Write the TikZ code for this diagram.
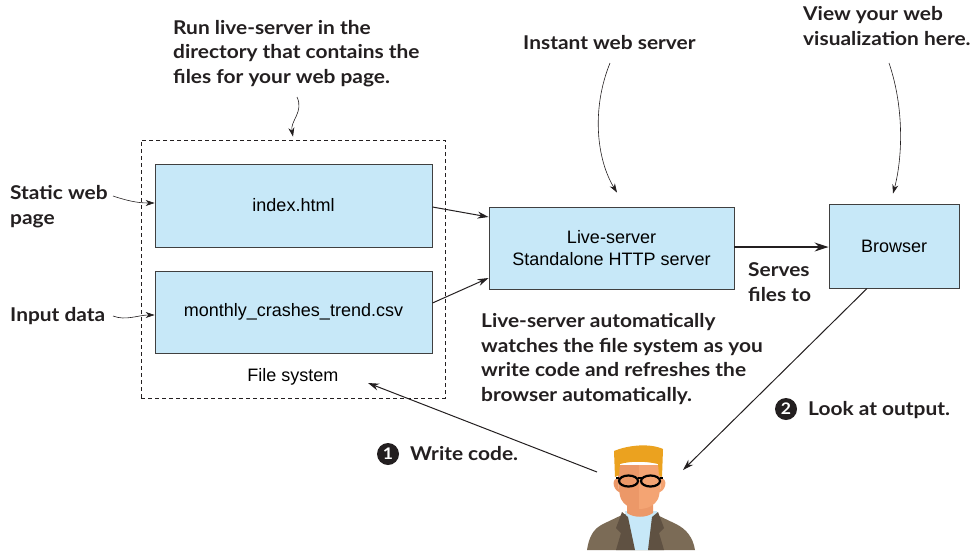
\documentclass[tikz,border=0pt]{standalone}
\usepackage{fontspec}
\setmainfont{Lato}[FakeStretch=1.1]
\newfontfamily\boxfont{Liberation Sans}
\usetikzlibrary{arrows.meta,calc}

\definecolor{boxblue}{RGB}{199,232,248}
\definecolor{hairorange}{RGB}{235,162,31}
\definecolor{skin}{RGB}{244,164,115}
\definecolor{skindark}{RGB}{236,152,104}
\definecolor{jacket}{RGB}{123,107,86}
\definecolor{jacketdark}{RGB}{95,81,66}
\definecolor{inkgrey}{RGB}{35,31,32}

\begin{document}
\begin{tikzpicture}[x=1pt,y=-1pt,
  filebox/.style={draw=black!75, fill=boxblue, line width=0.9pt, inner sep=0,
    font=\boxfont\fontsize{18}{22}\selectfont, align=center},
  note/.style={font=\fontsize{19}{24.5}\selectfont\bfseries, align=left,
    anchor=base west, inner sep=0, text=inkgrey},
  plain/.style={font=\boxfont\fontsize{18}{22}\selectfont, inner sep=0},
  arr/.style={draw=inkgrey, line width=1pt, -{Stealth[length=11pt,width=7pt]}},
  bigarr/.style={draw=inkgrey, line width=1.6pt, -{Stealth[length=14pt,width=9pt]}},
  callout/.style={draw=inkgrey, line width=0.6pt, -{Stealth[length=9pt,width=6pt]}},
  numdot/.style={circle, fill=inkgrey, text=white, inner sep=0, minimum size=22pt,
    font=\fontsize{16}{16}\selectfont\bfseries},
]
\useasboundingbox (0,0) rectangle (979,550);

% file system group
\node[draw=inkgrey, dashed, dash pattern=on 4pt off 3pt, line width=0.8pt,
  minimum width=304pt, minimum height=258pt, inner sep=0] (fsys) at (293,269) {};
\node[filebox, minimum width=277pt, minimum height=83pt] (index) at (293.5,205.5) {index.html};
\node[filebox, minimum width=277pt, minimum height=82pt] (csv) at (293.5,312) {monthly\_crashes\_trend.csv};
\node[plain] (fslabel) at (293,377) {File system};

% server and browser
\node[filebox, minimum width=245pt, minimum height=82pt] (live) at (611.5,248) {Live-server\\Standalone HTTP server};
\node[filebox, minimum width=130pt, minimum height=84pt] (browser) at (894,246) {Browser};

% notes (anchored at the baseline of their last line)
\node[note] (runnote) at (173,83) {Run live-server in the\\directory that contains the\\files for your web page.};
\node[note] (instant) at (523,49) {Instant web server};
\node[note] (viewnote) at (803,45) {View your web\\visualization here.};
\node[note] (static) at (10,224) {Static web\\page};
\node[note] (input) at (10,321) {Input data};
\node[note] (serves) at (748,301) {Serves\\files to};
\node[note] (watch) at (481,401) {Live-server automatically\\watches the file system as you\\write code and refreshes the\\browser automatically.};
\node[numdot] (dot2) at (786,409) {2};
\node[note] (look) at (808,415) {Look at output.};
\node[numdot] (dot1) at (388,454) {1};
\node[note] (write) at (410,460) {Write code.};

% callout arrows
\coordinate (runtail) at (297,97);
\coordinate (insttail) at (610,63);
\coordinate (viewtail) at (889,63);
\coordinate (stattail) at (113,196);
\coordinate (inputtail) at (113,316);
\draw[callout] (runtail) .. controls (304,112) and (290,121) .. ($(fsys.north)+(0,-3)$);
\draw[callout] (stattail) .. controls (128,201) and (138,203) .. ($(index.west)+(0,-2.5)$);
\draw[callout] (inputtail) .. controls (126,321) and (138,315) .. ($(csv.west)+(0,3)$);
\draw[callout] (insttail) .. controls (591,110) and (597,160) .. ($(live.north)+(5.5,-14)$);
\draw[callout] (viewtail) .. controls (905,110) and (902,160) .. ($(browser.north)+(-1,-10)$);

% data flow
\draw[arr] ($(index.east)+(0,1.5)$) -- ($(live.west)+(0,-31)$);
\draw[arr] ($(csv.east)+(0,-9)$) -- ($(live.west)+(0,30)$);
\draw[bigarr] ($(live.east)+(0,-1)$) -- ($(browser.west)+(0,1)$);

% developer
\coordinate (person) at (638,497);
\coordinate (lookhead) at (683,470);
\coordinate (writefrom) at (597,472);
\coordinate (fstarget) at (368,383);
\draw[arr] ($(browser.south)+(-27,0)$) -- (lookhead);
\draw[arr] (writefrom) -- (fstarget);

\begin{scope}[shift={(person)}]
  % jacket
  \fill[jacket] (-51,53) .. controls (-49,40) and (-45,32) .. (-35,27)
    -- (-14,17) -- (17,17) -- (38,27) .. controls (48,32) and (55,40) .. (57,53) -- cycle;
  % shirt
  \fill[boxblue] (-13,14) -- (19,14) -- (15,53) -- (-7,53) -- cycle;
  % lapels
  \fill[jacketdark] (-16,15) -- (-10,20) -- (-3,53) -- (-22,53) -- (-17,36) -- (-22,31) -- cycle;
  \fill[jacketdark] (20,15) -- (14,20) -- (10,53) -- (26,53) -- (21,36) -- (26,31) -- cycle;
  % neck
  \fill[skindark] (-11,0) -- (15,0) -- (15,16) .. controls (8,21) and (-4,21) .. (-11,16) -- cycle;
  % ears
  \fill[skindark] (-20,-18) .. controls (-26,-20) and (-26,-8) .. (-19,-5) -- cycle;
  \fill[skin] (23,-18) .. controls (29,-20) and (29,-8) .. (22,-5) -- cycle;
  % face
  \fill[skindark] (-20,-32) -- (1,-32) -- (1,12) .. controls (-8,12) and (-14,8) .. (-17,2)
    .. controls (-20,-6) and (-20,-20) .. (-20,-32) -- cycle;
  \fill[skin] (1,-32) -- (23,-32) .. controls (23,-20) and (23,-6) .. (20,2)
    .. controls (17,8) and (10,12) .. (1,12) -- cycle;
  % hair
  \fill[hairorange] (-23,-20) -- (-24,-46) .. controls (-10,-52) and (12,-54) .. (25,-48)
    -- (24,-20) -- (21,-22) -- (20,-33) .. controls (8,-36) and (-8,-36) .. (-18,-33)
    -- (-19,-22) -- cycle;
  % glasses
  \begin{scope}[draw=black, line width=2.2pt]
    \draw (-9.5,-16) ellipse [x radius=9.5pt, y radius=5.5pt];
    \draw (12.5,-16) ellipse [x radius=9.5pt, y radius=5.5pt];
    \draw (-0.5,-19) -- (3.5,-19);
    \draw (-19,-19) -- (-22,-19);
    \draw (22,-19) -- (25,-19);
  \end{scope}
\end{scope}
\end{tikzpicture}
\end{document}
